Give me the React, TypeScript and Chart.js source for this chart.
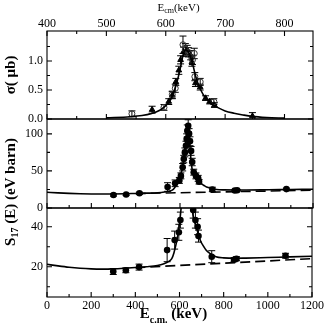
import React, { useEffect, useRef } from 'react';
import { Chart, registerables } from 'chart.js';

Chart.register(...registerables);

// ---------- Panel 1: sigma (μb) vs E_cm (keV), top axis ----------
const SIGMA_CURVE_E = [500, 540, 560, 575, 590, 600, 608, 612, 616, 620, 625, 628, 631, 634, 637, 640, 643, 646, 650, 654, 659, 665, 673, 680, 687, 700, 715, 730, 745, 770, 800];
const SIGMA_CURVE = [0.02, 0.04, 0.06, 0.09, 0.15, 0.23, 0.33, 0.42, 0.54, 0.68, 0.9, 1.05, 1.16, 1.19, 1.17, 1.12, 1.03, 0.92, 0.75, 0.62, 0.5, 0.39, 0.3, 0.24, 0.2, 0.14, 0.1, 0.07, 0.045, 0.025, 0.015];

const TRI_E = [577, 605, 611, 617, 622, 625, 630, 636, 642, 644, 650, 658, 667, 674, 682, 746];
const TRI_SIGMA = [0.16, 0.3, 0.41, 0.64, 0.84, 1.02, 1.16, 1.19, 1.1, 0.98, 0.62, 0.55, 0.36, 0.3, 0.24, 0.05];
const TRI_ERR = [0.06, 0.05, 0.06, 0.06, 0.07, 0.07, 0.08, 0.08, 0.08, 0.07, 0.06, 0.05, 0.04, 0.04, 0.04, 0.06];

const CIRC_E = [543, 597, 611, 616, 629, 633, 638, 645, 648, 649, 658, 681];
const CIRC_SIGMA = [0.09, 0.2, 0.42, 0.53, 1.28, 1.2, 1.15, 1.02, 1.13, 0.73, 0.64, 0.3];
const CIRC_ERR = [0.05, 0.05, 0.06, 0.07, 0.15, 0.1, 0.08, 0.08, 0.09, 0.07, 0.06, 0.05];

// ---------- Panels 2 & 3: S17(E) (eV barn) vs E_c.m. (keV) ----------
const S_E = [300, 357, 417, 544, 578, 597, 604, 612, 617, 622, 627, 630, 633, 637, 641, 645, 650, 655, 662, 672, 682, 686, 746, 847, 858, 1080];
const S_VAL = [17.6, 18.2, 19.8, 28.3, 33.3, 37.2, 43.3, 55, 66, 75, 84, 93, 104, 111, 100, 90, 77, 62, 48.3, 43.3, 40, 35.3, 25, 23.5, 24, 25.5];
const S_ERR = [1.5, 1.2, 1.5, 5.8, 4.5, 4, 4, 5, 5, 6, 6, 7, 8, 8, 7, 6, 6, 5, 4, 4, 4, 3, 3, 1, 1, 1.2];

const S_CURVE_E = [0, 50, 100, 150, 200, 250, 300, 350, 400, 450, 500, 530, 550, 565, 575, 585, 595, 600, 607, 613, 618, 623, 627, 630, 633, 636, 640, 644, 648, 652, 657, 665, 672, 682, 695, 710, 720, 740, 765, 800, 850, 900, 1000, 1100, 1200];
const S_CURVE = [21.2, 20.4, 19.7, 19.2, 18.9, 18.8, 18.9, 19.2, 19.6, 20.0, 20.6, 21.5, 22.5, 24, 27, 31.5, 37.5, 41.7, 49, 58, 68, 82, 96, 106, 111, 110, 100, 85, 70, 58, 49, 44, 41, 37.5, 33, 30, 28.3, 26.5, 25, 24.4, 24.2, 24.3, 24.6, 24.9, 25.2];

const BG_E = [400, 1200];
const BG_S = [19.5, 24.0];

// ---------- Ticks ----------
const TOP_X_TICKS = [400, 500, 600, 700, 800];
const TOP_X_MINOR = [450, 550, 650, 750];
const SIGMA_TICKS = [0, 0.5, 1.0];
const SIGMA_MINOR = [0.25, 0.75, 1.25];
const S2_TICKS = [0, 50, 100];
const S2_MINOR = [25, 75];
const S3_TICKS = [20, 40];
const S3_MINOR = [10, 30];
const X_TICKS = [0, 200, 400, 600, 800, 1000, 1200];
const X_MINOR = [100, 300, 500, 700, 900, 1100];

// ---------- Layout ----------
const W = 326;
const H = 330;
const LEFT = 47;
const RIGHT = 313;
const T1 = 31;
const B1 = 119;
const B2 = 208;
const B3 = 297;

const SERIF = '"Liberation Serif", "Times New Roman", serif';
const tickFont = { family: SERIF, size: 12 };

const pts = (xs: number[], ys: number[]) => xs.map((x, i) => ({ x, y: ys[i] }));

const errorBarPlugin = {
  id: 'errbars',
  beforeDatasetsDraw(chart: any) {
    const { ctx, chartArea: a } = chart;
    ctx.save();
    ctx.beginPath();
    ctx.rect(a.left, a.top, a.right - a.left, a.bottom - a.top);
    ctx.clip();
    chart.data.datasets.forEach((ds: any, i: number) => {
      const errs = ds.errors as number[] | undefined;
      if (!errs) return;
      const meta = chart.getDatasetMeta(i);
      const ys = chart.scales[meta.yAxisID];
      meta.data.forEach((el: any, j: number) => {
        const v = ds.data[j].y;
        const e = errs[j];
        const x = el.x;
        const y1 = ys.getPixelForValue(v + e);
        const y2 = ys.getPixelForValue(v - e);
        ctx.strokeStyle = '#000';
        ctx.lineWidth = 1;
        ctx.beginPath();
        ctx.moveTo(x, y1);
        ctx.lineTo(x, y2);
        ctx.moveTo(x - 3.5, y1);
        ctx.lineTo(x + 3.5, y1);
        ctx.moveTo(x - 3.5, y2);
        ctx.lineTo(x + 3.5, y2);
        ctx.stroke();
      });
    });
    ctx.restore();
  },
};

function makeFramePlugin(cfg: {
  xMajor: number[];
  xMinor: number[];
  yMajor: number[];
  yMinor: number[];
  xTop: boolean;
  xBottom: boolean;
}) {
  return {
    id: 'frame',
    afterDraw(chart: any) {
      const { ctx, chartArea: a } = chart;
      const xs = chart.scales.x;
      const ys = chart.scales.y;
      ctx.save();
      ctx.strokeStyle = '#000';
      ctx.lineWidth = 1.1;
      ctx.strokeRect(a.left, a.top, a.right - a.left, a.bottom - a.top);
      ctx.beginPath();
      const xt = (vals: number[], len: number) => {
        vals.forEach((v) => {
          const p = xs.getPixelForValue(v);
          if (p < a.left - 0.5 || p > a.right + 0.5) return;
          if (cfg.xTop) {
            ctx.moveTo(p, a.top);
            ctx.lineTo(p, a.top + len);
          }
          if (cfg.xBottom) {
            ctx.moveTo(p, a.bottom);
            ctx.lineTo(p, a.bottom - len);
          }
        });
      };
      const yt = (vals: number[], len: number) => {
        vals.forEach((v) => {
          const p = ys.getPixelForValue(v);
          if (p < a.top - 0.5 || p > a.bottom + 0.5) return;
          ctx.moveTo(a.left, p);
          ctx.lineTo(a.left + len, p);
          ctx.moveTo(a.right, p);
          ctx.lineTo(a.right - len, p);
        });
      };
      xt(cfg.xMajor, 5);
      xt(cfg.xMinor, 3);
      yt(cfg.yMajor, 5);
      yt(cfg.yMinor, 3);
      ctx.stroke();
      ctx.restore();
    },
  };
}

type Part = { text: string; font: string; dy?: number };
type TextItem = { x: number; y: number; rotate?: number; parts: Part[] };

function makeTextPlugin(items: TextItem[]) {
  return {
    id: 'richText',
    afterDraw(chart: any) {
      const ctx = chart.ctx;
      items.forEach((item) => {
        ctx.save();
        ctx.translate(item.x, item.y);
        if (item.rotate) ctx.rotate(item.rotate);
        ctx.fillStyle = '#000';
        ctx.textBaseline = 'alphabetic';
        ctx.textAlign = 'left';
        let total = 0;
        item.parts.forEach((p) => {
          ctx.font = p.font;
          total += ctx.measureText(p.text).width;
        });
        let cx = -total / 2;
        item.parts.forEach((p) => {
          ctx.font = p.font;
          ctx.fillText(p.text, cx, p.dy || 0);
          cx += ctx.measureText(p.text).width;
        });
        ctx.restore();
      });
    },
  };
}

function xAxis(opts: any) {
  return {
    type: 'linear',
    position: opts.position,
    min: opts.min,
    max: opts.max,
    grid: { display: false, drawTicks: false },
    border: { display: false },
    afterBuildTicks: (s: any) => {
      s.ticks = opts.ticks.map((value: number) => ({ value }));
    },
    afterFit: (s: any) => {
      s.height = opts.height;
    },
    ticks: {
      display: opts.showLabels,
      color: '#000',
      font: tickFont,
      padding: opts.padding,
      autoSkip: false,
      maxRotation: 0,
      minRotation: 0,
      callback: (v: any) => String(v),
    },
  };
}

function yAxis(opts: any) {
  return {
    type: 'linear',
    min: opts.min,
    max: opts.max,
    grid: { display: false, drawTicks: false },
    border: { display: false },
    afterBuildTicks: (s: any) => {
      s.ticks = opts.ticks.map((value: number) => ({ value }));
    },
    afterFit: (s: any) => {
      s.width = LEFT;
    },
    ticks: {
      color: '#000',
      font: tickFont,
      padding: 4,
      autoSkip: false,
      callback: opts.format,
    },
  };
}

const baseOptions = (padTop: number, padBottom: number) => ({
  animation: false,
  responsive: false,
  events: [],
  layout: { padding: { left: 0, right: W - RIGHT, top: padTop, bottom: padBottom } },
  plugins: { legend: { display: false }, tooltip: { enabled: false } },
});

function sDatasets() {
  return [
    {
      data: pts(S_CURVE_E, S_CURVE),
      borderColor: '#000',
      borderWidth: 1.6,
      pointRadius: 0,
      cubicInterpolationMode: 'monotone',
      fill: false,
    },
    {
      data: pts(BG_E, BG_S),
      borderColor: '#000',
      borderWidth: 1.6,
      borderDash: [10, 5],
      pointRadius: 0,
      fill: false,
    },
    {
      data: pts(S_E, S_VAL),
      showLine: false,
      pointStyle: 'circle',
      pointRadius: 3.3,
      borderWidth: 0,
      backgroundColor: '#000',
      borderColor: '#000',
      errors: S_ERR,
    },
  ];
}

function configA(): any {
  return {
    type: 'line',
    data: {
      datasets: [
        {
          data: pts(SIGMA_CURVE_E, SIGMA_CURVE),
          borderColor: '#000',
          borderWidth: 1.6,
          pointRadius: 0,
          cubicInterpolationMode: 'monotone',
          fill: false,
        },
        {
          data: pts(CIRC_E, CIRC_SIGMA),
          showLine: false,
          pointStyle: 'circle',
          pointRadius: 3,
          borderWidth: 1,
          borderColor: '#333',
          backgroundColor: 'rgba(0,0,0,0)',
          errors: CIRC_ERR,
        },
        {
          data: pts(TRI_E, TRI_SIGMA),
          showLine: false,
          pointStyle: 'triangle',
          pointRadius: 3.3,
          borderWidth: 1,
          borderColor: '#000',
          backgroundColor: '#000',
          errors: TRI_ERR,
        },
      ],
    },
    options: {
      ...baseOptions(0, H - B1),
      scales: {
        x: xAxis({ position: 'top', min: 400, max: 848, ticks: TOP_X_TICKS, height: T1, padding: 0, showLabels: true }),
        y: yAxis({ min: 0, max: (B1 - T1) / 58, ticks: SIGMA_TICKS, format: (v: any) => Number(v).toFixed(1) }),
      },
    },
    plugins: [
      errorBarPlugin,
      makeFramePlugin({ xMajor: TOP_X_TICKS, xMinor: TOP_X_MINOR, yMajor: SIGMA_TICKS, yMinor: SIGMA_MINOR, xTop: true, xBottom: true }),
      makeTextPlugin([
        {
          x: 178.5,
          y: 10.5,
          parts: [
            { text: 'E', font: `11px ${SERIF}` },
            { text: 'cm', font: `8px ${SERIF}`, dy: 2.5 },
            { text: '(keV)', font: `11px ${SERIF}` },
          ],
        },
        {
          x: 14.5,
          y: 75,
          rotate: -Math.PI / 2,
          parts: [{ text: 'σ( μb)', font: `bold 15px ${SERIF}` }],
        },
      ]),
    ],
  };
}

function configB(): any {
  return {
    type: 'line',
    data: { datasets: sDatasets() },
    options: {
      ...baseOptions(B1, H - B2),
      scales: {
        x: xAxis({ position: 'bottom', min: 0, max: 1200, ticks: X_TICKS, height: 0, padding: 0, showLabels: false }),
        y: yAxis({ min: 0, max: 120, ticks: S2_TICKS, format: (v: any) => String(v) }),
      },
    },
    plugins: [
      errorBarPlugin,
      makeFramePlugin({ xMajor: X_TICKS, xMinor: X_MINOR, yMajor: S2_TICKS, yMinor: S2_MINOR, xTop: false, xBottom: true }),
    ],
  };
}

function configC(): any {
  return {
    type: 'line',
    data: { datasets: sDatasets() },
    options: {
      ...baseOptions(B2, 0),
      scales: {
        x: xAxis({ position: 'bottom', min: 0, max: 1200, ticks: X_TICKS, height: H - B3, padding: 2, showLabels: true }),
        y: yAxis({ min: 4.85, max: 49.35, ticks: S3_TICKS, format: (v: any) => String(v) }),
      },
    },
    plugins: [
      errorBarPlugin,
      makeFramePlugin({ xMajor: X_TICKS, xMinor: X_MINOR, yMajor: S3_TICKS, yMinor: S3_MINOR, xTop: false, xBottom: true }),
      makeTextPlugin([
        {
          x: 14.5,
          y: 192,
          rotate: -Math.PI / 2,
          parts: [
            { text: 'S', font: `bold 15px ${SERIF}` },
            { text: '17', font: `bold 10px ${SERIF}`, dy: 3.5 },
            { text: ' (E) (eV barn)', font: `bold 15px ${SERIF}` },
          ],
        },
        {
          x: 173.5,
          y: 318,
          parts: [
            { text: 'E', font: `bold 15px ${SERIF}` },
            { text: 'c.m.', font: `bold 10px ${SERIF}`, dy: 4.5 },
            { text: ' (keV)', font: `bold 15px ${SERIF}` },
          ],
        },
      ]),
    ],
  };
}

export default function App() {
  const r1 = useRef<HTMLCanvasElement>(null);
  const r2 = useRef<HTMLCanvasElement>(null);
  const r3 = useRef<HTMLCanvasElement>(null);

  useEffect(() => {
    const charts = [
      new Chart(r1.current as HTMLCanvasElement, configA()),
      new Chart(r2.current as HTMLCanvasElement, configB()),
      new Chart(r3.current as HTMLCanvasElement, configC()),
    ];
    return () => charts.forEach((c) => c.destroy());
  }, []);

  const cs: React.CSSProperties = { position: 'absolute', left: 0, top: 0, width: W, height: H };
  return (
    <div style={{ position: 'fixed', left: 0, top: 0, width: W, height: H, background: '#fff' }}>
      <canvas ref={r1} width={W} height={H} style={cs} />
      <canvas ref={r2} width={W} height={H} style={cs} />
      <canvas ref={r3} width={W} height={H} style={cs} />
    </div>
  );
}
